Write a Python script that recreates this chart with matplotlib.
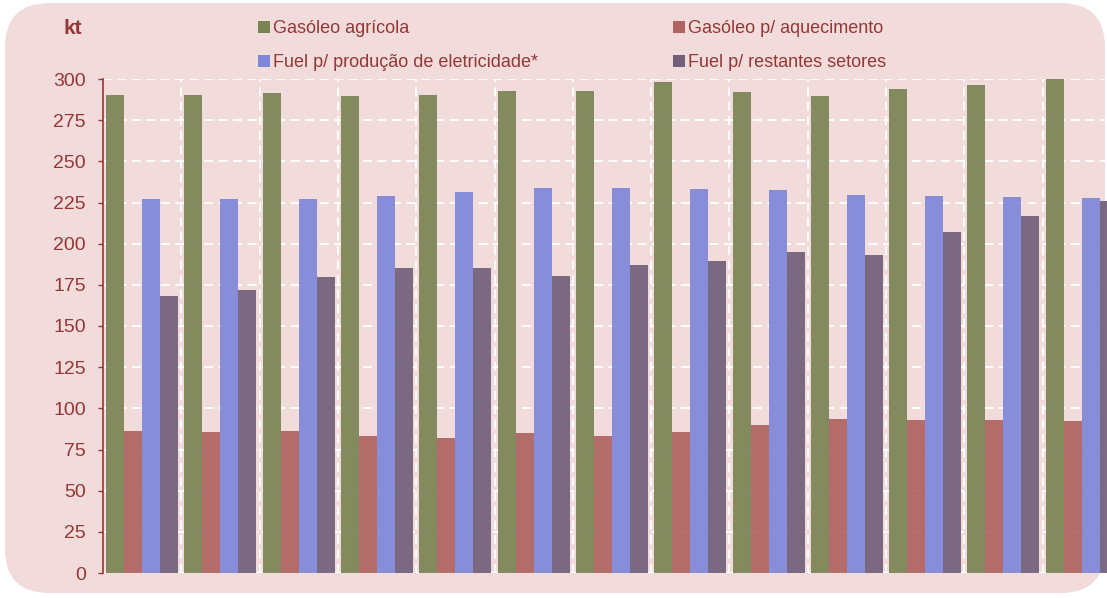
import numpy as np
import matplotlib.pyplot as plt
from matplotlib.patches import FancyBboxPatch, Patch

plt.rc('font', family=['Liberation Sans', 'DejaVu Sans'])

# values (kt)
gasoleo_agricola = [290, 290, 291.5, 289.5, 290, 292.5, 293, 298, 292, 289.5, 294, 296.5, 300]
gasoleo_aquec = [86, 85.5, 86.5, 83.5, 82, 85, 83, 85.5, 90, 93.5, 93, 93, 92.5]
fuel_eletric = [227, 227, 227, 229, 231.5, 234, 234, 233.5, 232.5, 229.5, 229, 228.5, 228]
fuel_restantes = [168, 172, 179.5, 185, 185.5, 180.5, 187, 189.5, 195, 193, 207, 217, 226]
series_names = ['Gasóleo agrícola', 'Gasóleo p/ aquecimento',
                'Fuel p/ produção de eletricidade*', 'Fuel p/ restantes setores']
colors = ['#7a8455', '#b06462', '#7f87d8', '#72607a']
yticks = np.arange(0, 301, 25)

txt = '#953735'
W, H = 1107, 598
fig = plt.figure(figsize=(W/100, H/100), dpi=100)
fig.patch.set_facecolor('white')
bg = FancyBboxPatch((5/W, 5/H), 1100/W, 590/H, boxstyle='round,pad=0,rounding_size=0.04',
                    transform=fig.transFigure, facecolor='#f2dcdb', edgecolor='none',
                    mutation_aspect=W/H, zorder=-5)
fig.patches.append(bg)

n = len(gasoleo_agricola)
# axes runs off the right edge, like the reference
x0, x1 = 103, 103 + 13*78.3
ax = fig.add_axes([x0/W, (H-573)/H, (x1-x0)/W, (573-79)/H])
ax.set_facecolor('none')
ax.set_zorder(2)

bw = 0.23
x = np.arange(n)
data = [gasoleo_agricola, gasoleo_aquec, fuel_eletric, fuel_restantes]
for i, (vals, c) in enumerate(zip(data, colors)):
    ax.bar(x + (i-1.5)*bw, vals, width=bw, color=c, alpha=0.93, zorder=3, linewidth=0)

ax.set_xlim(-0.5, n-0.5)
ax.set_ylim(0, 300)
ax.set_yticks(yticks)
ax.set_xticks([])
ax.set_xticks(np.arange(n)+0.5, minor=True)
ax.grid(axis='y', color='white', linestyle=(0, (5, 3)), linewidth=1.3, zorder=1)
ax.grid(axis='x', which='minor', color='white', linestyle=(0, (5, 3)), linewidth=1.3, zorder=1)
ax.set_axisbelow(True)
ax.tick_params(axis='x', which='both', length=0)
ax.tick_params(axis='y', colors=txt, labelsize=14, length=3.8, width=1, pad=8.5)
for s in ['top', 'right', 'bottom']:
    ax.spines[s].set_visible(False)
ax.spines['left'].set_color(txt)
ax.spines['left'].set_linewidth(1.2)
ax.axhline(0, color='white', linewidth=1.5, zorder=2)

fig.text(73/W, 1-28/H, 'kt', color=txt, fontsize=15, fontweight='bold', ha='center', va='center')

# legend fills row-wise in the reference
order = [0, 2, 1, 3]
handles = [Patch(facecolor=colors[k], edgecolor='none') for k in order]
labels = [series_names[k] for k in order]
leg = fig.legend(handles, labels, ncol=2, loc='upper left', bbox_to_anchor=(242/W, 1-4/H),
                 frameon=False, fontsize=13, handlelength=0.65, handleheight=0.65, handletextpad=0.15,
                 columnspacing=7.5, labelspacing=0.95)
for t in leg.get_texts():
    t.set_color(txt)

fig.savefig('out.png', dpi=100)
